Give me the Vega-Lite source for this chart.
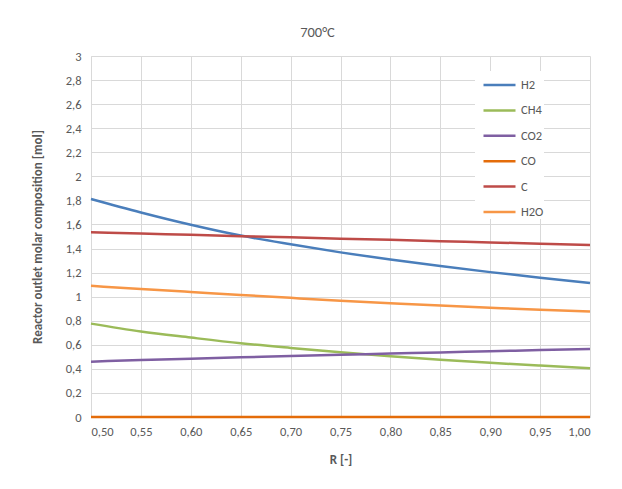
{
  "$schema": "https://vega.github.io/schema/vega-lite/v6.json",
  "autosize": "none",
  "width": 499,
  "height": 361,
  "padding": {"left": 91, "top": 56, "right": 32, "bottom": 72},
  "background": "white",
  "title": {
    "text": "700°C",
    "anchor": "middle",
    "frame": "group",
    "dx": -23,
    "offset": 10,
    "fontSize": 14.5,
    "fontWeight": "normal",
    "color": "#595959",
    "font": "Carlito, Lato, sans-serif"
  },
  "data": {
    "values": [
      {"R": 0.50, "species": "H2", "mol": 1.812},
      {"R": 0.55, "species": "H2", "mol": 1.700},
      {"R": 0.60, "species": "H2", "mol": 1.598},
      {"R": 0.65, "species": "H2", "mol": 1.508},
      {"R": 0.70, "species": "H2", "mol": 1.435},
      {"R": 0.75, "species": "H2", "mol": 1.368},
      {"R": 0.80, "species": "H2", "mol": 1.308},
      {"R": 0.85, "species": "H2", "mol": 1.254},
      {"R": 0.90, "species": "H2", "mol": 1.204},
      {"R": 0.95, "species": "H2", "mol": 1.158},
      {"R": 1.00, "species": "H2", "mol": 1.114},

      {"R": 0.50, "species": "CH4", "mol": 0.776},
      {"R": 0.55, "species": "CH4", "mol": 0.710},
      {"R": 0.60, "species": "CH4", "mol": 0.660},
      {"R": 0.65, "species": "CH4", "mol": 0.613},
      {"R": 0.70, "species": "CH4", "mol": 0.574},
      {"R": 0.75, "species": "CH4", "mol": 0.538},
      {"R": 0.80, "species": "CH4", "mol": 0.505},
      {"R": 0.85, "species": "CH4", "mol": 0.476},
      {"R": 0.90, "species": "CH4", "mol": 0.450},
      {"R": 0.95, "species": "CH4", "mol": 0.427},
      {"R": 1.00, "species": "CH4", "mol": 0.405},

      {"R": 0.50, "species": "CO2", "mol": 0.460},
      {"R": 0.55, "species": "CO2", "mol": 0.473},
      {"R": 0.60, "species": "CO2", "mol": 0.485},
      {"R": 0.65, "species": "CO2", "mol": 0.496},
      {"R": 0.70, "species": "CO2", "mol": 0.507},
      {"R": 0.75, "species": "CO2", "mol": 0.517},
      {"R": 0.80, "species": "CO2", "mol": 0.527},
      {"R": 0.85, "species": "CO2", "mol": 0.537},
      {"R": 0.90, "species": "CO2", "mol": 0.546},
      {"R": 0.95, "species": "CO2", "mol": 0.556},
      {"R": 1.00, "species": "CO2", "mol": 0.565},

      {"R": 0.50, "species": "CO", "mol": 0},
      {"R": 0.55, "species": "CO", "mol": 0},
      {"R": 0.60, "species": "CO", "mol": 0},
      {"R": 0.65, "species": "CO", "mol": 0},
      {"R": 0.70, "species": "CO", "mol": 0},
      {"R": 0.75, "species": "CO", "mol": 0},
      {"R": 0.80, "species": "CO", "mol": 0},
      {"R": 0.85, "species": "CO", "mol": 0},
      {"R": 0.90, "species": "CO", "mol": 0},
      {"R": 0.95, "species": "CO", "mol": 0},
      {"R": 1.00, "species": "CO", "mol": 0},

      {"R": 0.50, "species": "C", "mol": 1.535},
      {"R": 0.55, "species": "C", "mol": 1.524},
      {"R": 0.60, "species": "C", "mol": 1.514},
      {"R": 0.65, "species": "C", "mol": 1.503},
      {"R": 0.70, "species": "C", "mol": 1.493},
      {"R": 0.75, "species": "C", "mol": 1.482},
      {"R": 0.80, "species": "C", "mol": 1.472},
      {"R": 0.85, "species": "C", "mol": 1.461},
      {"R": 0.90, "species": "C", "mol": 1.451},
      {"R": 0.95, "species": "C", "mol": 1.440},
      {"R": 1.00, "species": "C", "mol": 1.430},

      {"R": 0.50, "species": "H2O", "mol": 1.090},
      {"R": 0.55, "species": "H2O", "mol": 1.064},
      {"R": 0.60, "species": "H2O", "mol": 1.039},
      {"R": 0.65, "species": "H2O", "mol": 1.014},
      {"R": 0.70, "species": "H2O", "mol": 0.990},
      {"R": 0.75, "species": "H2O", "mol": 0.967},
      {"R": 0.80, "species": "H2O", "mol": 0.946},
      {"R": 0.85, "species": "H2O", "mol": 0.926},
      {"R": 0.90, "species": "H2O", "mol": 0.908},
      {"R": 0.95, "species": "H2O", "mol": 0.891},
      {"R": 1.00, "species": "H2O", "mol": 0.876}
    ]
  },
  "mark": {"type": "line", "interpolate": "monotone", "strokeWidth": 2.5},
  "encoding": {
    "x": {
      "field": "R",
      "type": "quantitative",
      "scale": {"domain": [0.5, 1.0], "nice": false, "zero": false},
      "axis": {
        "values": [0.5, 0.55, 0.6, 0.65, 0.7, 0.75, 0.8, 0.85, 0.9, 0.95, 1.0],
        "labelExpr": "replace(format(datum.value, '.2f'), '.', ',')",
        "title": "R [-]",
        "titleFontWeight": "bold",
        "titlePadding": 16,
        "labelPadding": 8,
        "ticks": false,
        "domainColor": "#d9d9d9",
        "gridColor": "#d9d9d9"
      }
    },
    "y": {
      "field": "mol",
      "type": "quantitative",
      "scale": {"domain": [0, 3], "nice": false},
      "axis": {
        "values": [0, 0.2, 0.4, 0.6, 0.8, 1, 1.2, 1.4, 1.6, 1.8, 2, 2.2, 2.4, 2.6, 2.8, 3],
        "labelExpr": "replace(format(datum.value, '.1~f'), '.', ',')",
        "title": "Reactor outlet molar composition [mol]",
        "titleFontWeight": "bold",
        "titleX": -54,
        "titleY": 180.5,
        "titleAlign": "center",
        "titleBaseline": "middle",
        "titleAngle": -90,
        "labelPadding": 10,
        "ticks": false,
        "domainColor": "#d9d9d9",
        "gridColor": "#d9d9d9"
      }
    },
    "color": {
      "field": "species",
      "type": "nominal",
      "sort": ["H2", "CH4", "CO2", "CO", "C", "H2O"],
      "scale": {
        "domain": ["H2", "CH4", "CO2", "CO", "C", "H2O"],
        "range": ["#4a7ebb", "#9bbb59", "#7f5fa2", "#e46c0a", "#be4b48", "#f79646"]
      },
      "legend": {
        "title": null,
        "orient": "none",
        "legendX": 384,
        "legendY": 15,
        "padding": 0,
        "fillColor": "white",
        "symbolType": "M-0.44,0H2.12",
        "symbolSize": 625,
        "symbolStrokeWidth": 2.5,
        "labelOffset": 18,
        "labelFontSize": 12.5,
        "rowPadding": 4.4
      }
    }
  },
  "config": {
    "font": "Carlito, Lato, sans-serif",
    "view": {"stroke": null},
    "axis": {
      "labelColor": "#595959",
      "titleColor": "#595959",
      "labelFontSize": 12.5,
      "titleFontSize": 13,
      "labelFont": "Carlito, Lato, sans-serif",
      "titleFont": "Carlito, Lato, sans-serif"
    },
    "legend": {
      "labelColor": "#595959",
      "labelFont": "Carlito, Lato, sans-serif"
    }
  }
}
